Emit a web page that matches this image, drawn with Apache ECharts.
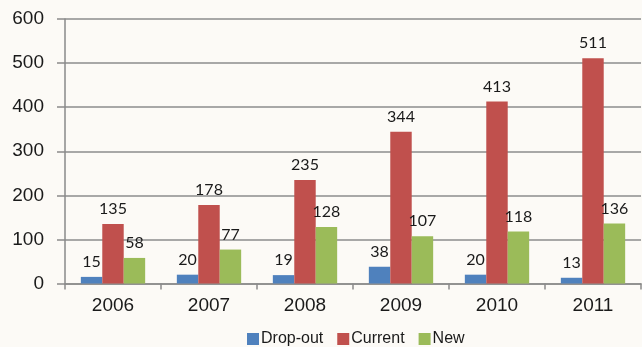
<!DOCTYPE html>
<html><head><meta charset="utf-8">
<script src="https://cdn.jsdelivr.net/npm/echarts@6/dist/echarts.min.js"></script>
<style>html,body{margin:0;padding:0;background:#fcfaf6}#c{width:642px;height:347px}</style>
</head><body><div id="c"></div>
<script>
const categories = ['2006','2007','2008','2009','2010','2011'];
const dropOut = [15, 20, 19, 38, 20, 13];
const current = [135, 178, 235, 344, 413, 511];
const newVals = [58, 77, 128, 107, 118, 136];
const yTicks = [0, 100, 200, 300, 400, 500, 600];

const chart = echarts.init(document.getElementById('c'));
const lbl = {show:true, position:'top', distance:7, color:'#1a1a1a', fontSize:16, fontFamily:'Lato, "Open Sans", sans-serif'};
chart.setOption({
  backgroundColor:'#fcfaf6',
  animation:false,
  grid:{left:65, right:1, top:19, bottom:63.5},
  legend:{
    data:['Drop-out','Current','New'],
    left:242, top:326, itemWidth:12, itemHeight:12, itemGap:14, icon:'rect',
    textStyle:{fontSize:16, color:'#1a1a1a', fontFamily:'"Liberation Sans", Arial, sans-serif', padding:[0,0,0,-3]}
  },
  xAxis:{
    type:'category', data:categories,
    axisLine:{lineStyle:{color:'#8a8a8a', width:1.5}},
    axisTick:{show:true, length:6, inside:false, lineStyle:{color:'#8a8a8a', width:1.5}},
    axisLabel:{fontSize:19, color:'#1a1a1a', margin:13, fontFamily:'"Liberation Sans", Arial, sans-serif'}
  },
  yAxis:{
    type:'value', min:yTicks[0], max:yTicks[yTicks.length-1], interval:100,
    axisLine:{show:true, lineStyle:{color:'#8a8a8a', width:1.5}},
    axisTick:{show:true, length:8, lineStyle:{color:'#8a8a8a', width:1.5}},
    splitLine:{lineStyle:{color:'#8c8c8c', width:1.5}},
    axisLabel:{fontSize:19, color:'#1a1a1a', margin:21, fontFamily:'"Liberation Sans", Arial, sans-serif'}
  },
  series:[
    {name:'Drop-out', type:'bar', data:dropOut, itemStyle:{color:'#4f81bd'}, barGap:'0%', barCategoryGap:'33%', label:lbl},
    {name:'Current', type:'bar', data:current, itemStyle:{color:'#c0504d'}, label:lbl},
    {name:'New', type:'bar', data:newVals, itemStyle:{color:'#9bbb59'}, label:lbl}
  ]
});
</script></body></html>
